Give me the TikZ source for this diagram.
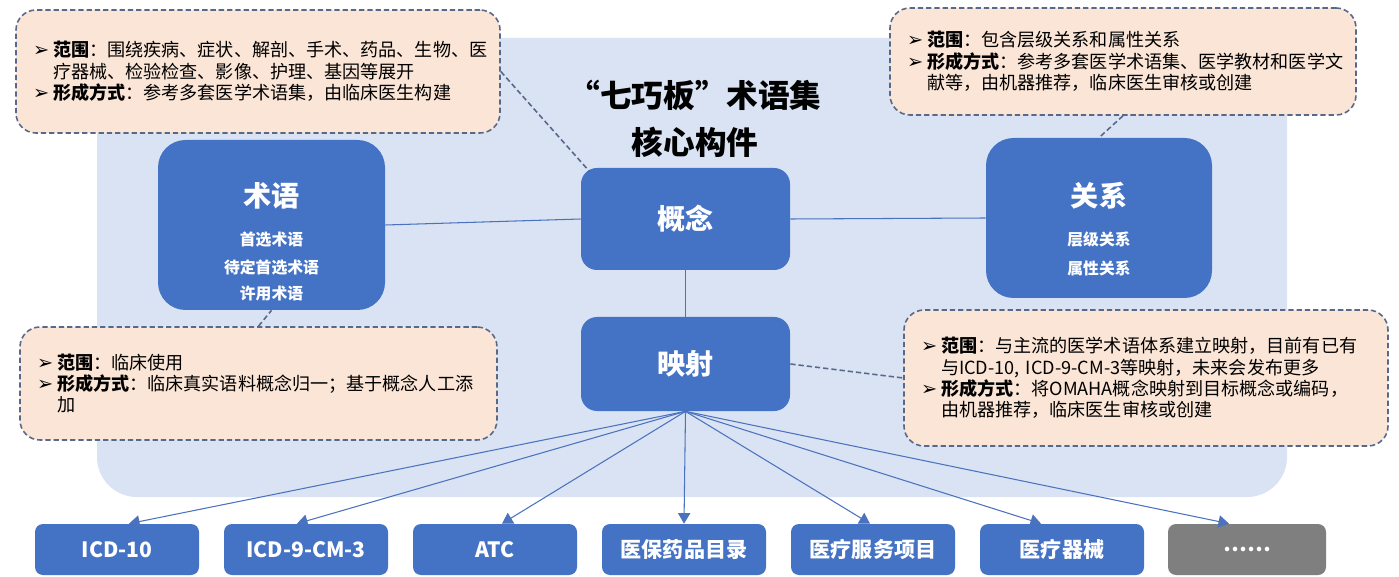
\documentclass[tikz,border=0pt]{standalone}
\usepackage{fontspec}
\setmainfont{Noto Sans CJK SC}
\newfontfamily\dejavu{DejaVu Sans}
\usetikzlibrary{arrows.meta, calc}
\definecolor{Blu}   {HTML}{4472C4}
\definecolor{BluL}  {HTML}{DAE3F3}
\definecolor{LineB} {HTML}{4A72BE}
\definecolor{Peach} {HTML}{FBE5D6}
\definecolor{Slate} {HTML}{56698A}
\definecolor{Gry}   {HTML}{7F7F7F}
\def\px{0.02cm}
\newcommand{\bul}{\makebox[0.4cm][l]{\dejavu\fontsize{11}{10}\selectfont ➢}}
\newcommand{\ind}{\hspace*{0.4cm}}
\tikzset{
  core/.style args={#1/#2}{
    rectangle, rounded corners=0.5cm,
    draw=none, fill=Blu, text=white,
    align=center, inner sep=0pt,
    minimum width=#1*\px, minimum height=#2*\px,
    font=\fontsize{16}{18}\selectfont\bfseries,
  },
  tgt/.style args={#1/#2}{
    core={#1/#2}, rounded corners=0.16cm,
    font=\fontsize{12}{14}\selectfont\bfseries,
  },
  note/.style args={#1/#2}{
    rectangle, rounded corners=0.4cm,
    draw=Slate, fill=Peach, text=black,
    line width=0.9pt, dash pattern=on 3pt off 1.7pt,
    minimum width=#1*\px, minimum height=#2*\px,
    inner xsep=0.34cm, inner ysep=0pt, align=left,
    font=\fontsize{10.3}{12.2}\selectfont,
  },
  hd/.style={text=white, font=\fontsize{16}{18}\selectfont\bfseries},
  sub/.style={text=white, font=\fontsize{9}{10}\selectfont\bfseries},
  link/.style={draw=LineB, line width=0.6pt},
  dlink/.style={draw=Slate, line width=0.9pt, dash pattern=on 3pt off 1.7pt},
  arr/.style={-{Triangle[length=6pt,width=7pt]}, draw=LineB, line width=0.6pt},
}
\begin{document}
\begin{tikzpicture}[x=0.02cm, y=-0.02cm]
  \useasboundingbox (0,0) rectangle (1399,577);
  \fill[white] (0,0) rectangle (1399,577);

  % light panel behind the core parts
  \fill[BluL, rounded corners=0.8cm] (97,38) rectangle (1287,497);

  \node[font=\fontsize{18}{27}\selectfont\bfseries, align=center]
        (title) at (695,119) {“七巧板”术语集\\核心构件};

  \node[core=227/170, rounded corners=0.55cm] (term) at (271.5,225) {};
  \node[hd]  (termh) at (271.5,196) {术语};
  \node[sub] (termA) at (271.5,240) {首选术语};
  \node[sub] (termB) at (271.5,268) {待定首选术语};
  \node[sub] (termC) at (271.5,294) {许用术语};

  \node[core=209/102, rounded corners=0.32cm] (concept) at (685.5,219) {概念};
  \node[core=209/94,  rounded corners=0.32cm] (map)     at (685.5,364) {映射};

  \node[core=226/160, rounded corners=0.55cm] (rel) at (1099,218) {};
  \node[hd]  (relh) at (1099,196) {关系};
  \node[sub] (relA) at (1099,240) {层级关系};
  \node[sub] (relB) at (1099,268) {属性关系};

  \node[note=484/123, text width=9.0cm] (noteTL) at (258,71.5) {%
    \bul\textbf{范围}：围绕疾病、症状、解剖、手术、药品、生物、医\\
    \ind 疗器械、检验检查、影像、护理、基因等展开\\
    \bul\textbf{形成方式}：参考多套医学术语集，由临床医生构建};
  \node[note=466/107, text width=8.64cm] (noteTR) at (1123,61.5) {%
    \bul\textbf{范围}：包含层级关系和属性关系\\
    \bul\textbf{形成方式}：参考多套医学术语集、医学教材和医学文\\
    \ind 献等，由机器推荐，临床医生审核或创建};
  \node[note=477/113, text width=8.86cm] (noteBL) at (258.5,383.5) {%
    \bul\textbf{范围}：临床使用\\
    \bul\textbf{形成方式}：临床真实语料概念归一；基于概念人工添\\
    \ind 加};
  \node[note=484/136, text width=9.0cm] (noteR) at (1146,378) {%
    \bul\textbf{范围}：与主流的医学术语体系建立映射，目前有已有\\
    \ind 与ICD-10, ICD-9-CM-3等映射，未来会发布更多\\
    \bul\textbf{形成方式}：将OMAHA概念映射到目标概念或编码，\\
    \ind 由机器推荐，临床医生审核或创建};

  \node[tgt=164/51] (icd10) at (117,549.5)  {ICD-10};
  \node[tgt=164/51] (icd9)  at (306,549.5)  {ICD-9-CM-3};
  \node[tgt=164/51] (atc)   at (495,549.5)  {ATC};
  \node[tgt=164/51] (drug)  at (684,549.5)  {医保药品目录};
  \node[tgt=164/51] (svc)   at (873,549.5)  {医疗服务项目};
  \node[tgt=164/51] (dev)   at (1062,549.5) {医疗器械};
  \node[tgt=158/51, fill=Gry] (more) at (1247,549.5) {……};

  \draw[link] (term.east) -- (concept.west);
  \draw[link] (concept.east) -- (rel.west);
  \draw[link] (concept.south) -- (map.north);

  \draw[dlink] (noteTL.east) -- ([xshift=0.18cm,yshift=-0.08cm]concept.north west);
  \draw[dlink] (noteTR.south) -- (rel.north);
  \draw[dlink] (noteBL.north) -- (term.south);
  \draw[dlink] (map.east) -- (noteR.west);

  \draw[arr] (map.south) -- ([xshift=0.24cm]icd10.north);
  \draw[arr] (map.south) -- ([xshift=-0.18cm]icd9.north);
  \draw[arr] (map.south) -- ([xshift=0.14cm]atc.north);
  \draw[arr] (map.south) -- (drug.north);
  \draw[arr] (map.south) -- ([xshift=-0.06cm]svc.north);
  \draw[arr] (map.south) -- ([xshift=-0.42cm]dev.north);
  \draw[arr] (map.south) -- ([xshift=-0.36cm]more.north);

\end{tikzpicture}
\end{document}
